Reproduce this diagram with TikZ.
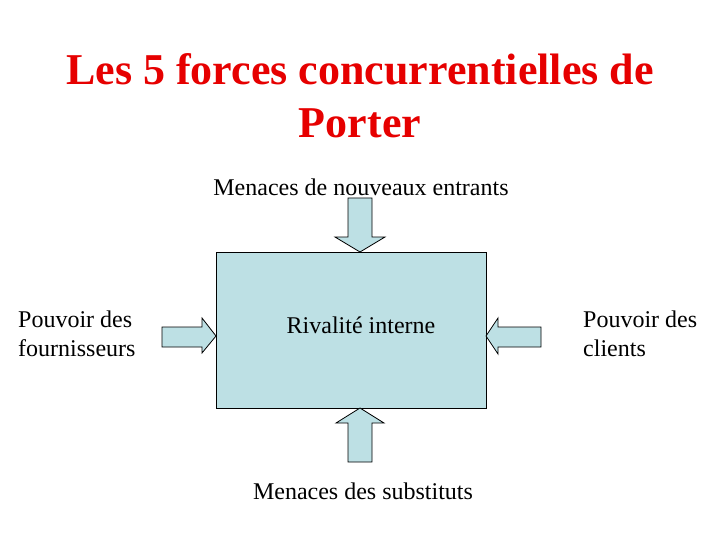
\documentclass[tikz,border=0pt]{standalone}
\usepackage{fontspec}
\setmainfont{Liberation Serif}
\definecolor{boxfill}{RGB}{189,224,228}
\definecolor{titlered}{RGB}{230,0,0}
\begin{document}
\begin{tikzpicture}[x=1pt,y=-1pt,
  blockarrow/.style={draw=black,line width=0.8pt,fill=boxfill,line join=miter},
  lbl/.style={font=\fontsize{24}{29}\selectfont,inner sep=0pt}]
\useasboundingbox (0,0) rectangle (720,540);
\node[font=\fontsize{44}{53}\selectfont\bfseries,text=titlered,align=center,inner sep=0pt] (title) at (360,96) {Les 5 forces concurrentielles de\\Porter};
\node[draw=black,line width=0.8pt,fill=boxfill,minimum width=270pt,minimum height=156pt,inner sep=0pt] (box) at (351,330) {};
\node[lbl] (riv) at (361,325) {Rivalité interne};
\node[lbl] (top) at (361,187) {Menaces de nouveaux entrants};
\node[lbl] (bot) at (363,491) {Menaces des substituts};
\node[lbl,align=left,anchor=west] (left) at (18,334) {Pouvoir des\\fournisseurs};
\node[lbl,align=left,anchor=west] (right) at (583,334) {Pouvoir des\\clients};
% top arrow
\draw[blockarrow] (348,198) -- (372,198) -- (372,237) -- (385,237) -- (360,252) -- (335,237) -- (348,237) -- cycle;
% bottom arrow
\draw[blockarrow] (348,462) -- (372,462) -- (372,423) -- (384,423) -- (360,408) -- (336,423) -- (348,423) -- cycle;
% left arrow
\draw[blockarrow] (162,327) -- (202,327) -- (202,318) -- (216,336) -- (202,353) -- (202,347) -- (162,347) -- cycle;
% right arrow
\draw[blockarrow] (541,327) -- (498,327) -- (498,318) -- (486,336) -- (498,354) -- (498,347) -- (541,347) -- cycle;
\end{tikzpicture}
\end{document}
